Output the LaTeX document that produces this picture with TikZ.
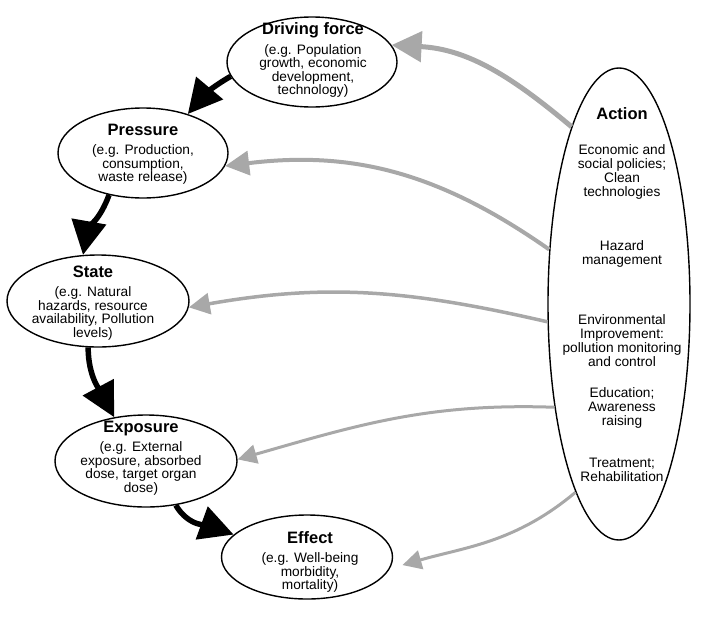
\documentclass[tikz,border=0pt]{standalone}
\usepackage{fontspec}
\setmainfont{Liberation Sans}
\usetikzlibrary{shapes.geometric,arrows.meta}
\definecolor{actgray}{HTML}{A8A8A8}
\newcommand{\headline}[1]{{\fontsize{16.5}{18}\selectfont\bfseries #1}}

\begin{document}
\begin{tikzpicture}[x=1pt, y=1pt, line join=round,
    oval/.style={draw, ellipse, line width=1.4pt, inner sep=0pt},
    txt/.style={align=center, inner sep=0pt, font=\fontsize{13.7}{13.5}\selectfont},
    flow/.style={line width=5.5pt, -{Triangle[length=34pt, width=34pt]}},
    feed/.style args={#1/#2}{draw=actgray, line width=#1pt, -{Triangle[length=#2pt, width=#2pt]}}]
    \useasboundingbox (0,0) rectangle (725,-621);
    % ellipses
    \node[oval, minimum width=170, minimum height=90] (drv) at (312,-62) {};
    \node[oval, minimum width=170, minimum height=90] (prs) at (143,-153) {};
    \node[oval, minimum width=182, minimum height=92] (ste) at (98,-301) {};
    \node[oval, minimum width=182, minimum height=92] (exp) at (146,-461) {};
    \node[oval, minimum width=171, minimum height=84] (eff) at (307,-557) {};
    \node[oval, minimum width=142, minimum height=472] (act) at (619,-304) {};
    % texts
    \node[txt] (drvt) at (313,-60) {\headline{Driving force}\\[6pt] (e.g. Population\\ growth, economic\\ development,\\ technology)};
    \node[txt] (prst) at (143,-154) {\headline{Pressure}\\[6pt] (e.g. Production,\\ consumption,\\ waste release)};
    \node[txt] (stet) at (93,-303) {\headline{State}\\[6pt] (e.g. Natural\\ hazards, resource\\ availability, Pollution\\ levels)};
    \node[txt] (expt) at (141,-458) {\headline{Exposure}\\[6pt] (e.g. External\\ exposure, absorbed\\ dose, target organ\\ dose)};
    \node[txt] (efft) at (310,-562) {\headline{Effect}\\[6pt] (e.g. Well-being\\ morbidity,\\ mortality)};
    \node[txt, font=\fontsize{13.7}{14}\selectfont] (actt) at (622,-295) {\headline{Action}\\[21pt]
        Economic and\\ social policies;\\ Clean\\ technologies\\[40pt]
        Hazard\\ management\\[46pt]
        Environmental\\ Improvement:\\ pollution monitoring\\ and control\\[17pt]
        Education;\\ Awareness\\ raising\\[28pt]
        Treatment;\\ Rehabilitation};
    % causal chain
    \draw[flow] (drv.190) to[out=210, in=50] (prs.41);
    \draw[flow] (prs.231) to[out=250, in=80] (ste.108);
    \draw[flow] (ste.258) to[out=270, in=118] (exp.126);
    \draw[flow] (exp.304) to[out=300, in=160] (eff.163);
    % actions
    \draw[feed=5/30] (act.105) to[out=140, in=-3] (drv.12);
    \draw[feed=4/24] (act.142) to[out=145, in=7] (prs.-9);
    \draw[feed=3.5/21] (act.194) to[out=167, in=10] (ste.-4);
    \draw[feed=3/19] (act.238) to[out=178, in=16] (exp.1);
    \draw[feed=3/19, shorten >=13pt] (act.257) to[out=220, in=16] (eff.-8);
\end{tikzpicture}
\end{document}
